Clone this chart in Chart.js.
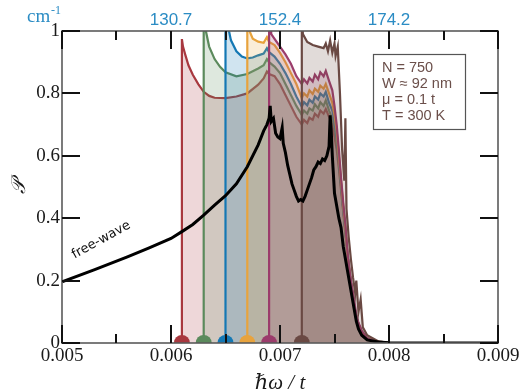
<!DOCTYPE html>
<html>
<head>
<meta charset="utf-8">
<script src="https://cdn.jsdelivr.net/npm/chart.js@4.4.0/dist/chart.umd.min.js"></script>
<style>
  html, body { margin: 0; padding: 0; background: #ffffff; }
</style>
</head>
<body>
<canvas id="plot" width="521" height="390"></canvas>
<script>
// === data ===
const xMajorTicks = [0.005, 0.006, 0.007, 0.008, 0.009];
const xMinorTicks = [0.0055, 0.0065, 0.0075, 0.0085];
const yMajorTicks = [0, 0.2, 0.4, 0.6, 0.8, 1];
const topTickPos = [0.006, 0.007, 0.008];
const topTickLabels = ["130.7", "152.4", "174.2"];
const infoLines = ["N = 750", "W \u2248 92 nm", "\u03bc = 0.1 t", "T = 300 K"];

// shared x grid for the tails of the first five curves
const tailX = [0.00695, 0.007, 0.00705, 0.0071, 0.00715, 0.0072, 0.00722, 0.00725, 0.00727, 0.0073,
  0.00732, 0.00735, 0.00737, 0.0074, 0.00742, 0.00745, 0.00748, 0.0075, 0.00752, 0.00754,
  0.00756, 0.00758, 0.0076, 0.00762, 0.00764, 0.00766, 0.00768, 0.0077, 0.00772, 0.00775,
  0.0078, 0.0079, 0.008, 0.009];

const redHeadX = [0.0061, 0.0061, 0.00611, 0.00613, 0.00616, 0.0062, 0.00625, 0.0063, 0.00635, 0.0064,
  0.0065, 0.0066, 0.0067, 0.0068, 0.00685, 0.00688, 0.0069];
const redHeadY = [0, 0.974, 0.95, 0.925, 0.89, 0.86, 0.83, 0.805, 0.792, 0.786,
  0.785, 0.79, 0.80, 0.828, 0.848, 0.87, 0.862];
const redTailY = [0.855, 0.83, 0.795, 0.76, 0.725, 0.70, 0.715, 0.705, 0.722, 0.715,
  0.735, 0.725, 0.745, 0.735, 0.75, 0.725, 0.70, 0.66, 0.62, 0.56,
  0.49, 0.42, 0.35, 0.28, 0.22, 0.17, 0.12, 0.085, 0.06, 0.035,
  0.015, 0.004, 0, 0];

const greenHeadX = [0.0063, 0.0063, 0.00632, 0.00635, 0.0064, 0.00645, 0.0065, 0.0066, 0.0067, 0.0068,
  0.00685, 0.00688, 0.0069];
const greenHeadY = [0, 1.08, 1.0, 0.95, 0.91, 0.885, 0.868, 0.855, 0.862, 0.88,
  0.89, 0.91, 0.9];
const greenTailY = [0.886, 0.865, 0.83, 0.795, 0.76, 0.731, 0.745, 0.735, 0.752, 0.745,
  0.765, 0.752, 0.772, 0.76, 0.778, 0.745, 0.72, 0.69, 0.64, 0.58,
  0.50, 0.43, 0.36, 0.28, 0.22, 0.17, 0.12, 0.085, 0.06, 0.035,
  0.015, 0.004, 0, 0];

const blueHeadX = [0.0065, 0.0065, 0.00652, 0.00655, 0.0066, 0.00665, 0.0067, 0.00675, 0.0068, 0.00685,
  0.00688, 0.0069];
const blueHeadY = [0, 1.1, 1.02, 0.97, 0.935, 0.918, 0.912, 0.915, 0.922, 0.928,
  0.945, 0.932];
const blueTailY = [0.918, 0.895, 0.865, 0.83, 0.79, 0.757, 0.772, 0.762, 0.78, 0.77,
  0.79, 0.78, 0.80, 0.79, 0.805, 0.77, 0.745, 0.71, 0.66, 0.59,
  0.51, 0.43, 0.36, 0.28, 0.22, 0.17, 0.12, 0.085, 0.06, 0.035,
  0.015, 0.004, 0, 0];

const orangeHeadX = [0.0067, 0.0067, 0.00672, 0.00675, 0.0068, 0.00685, 0.00688, 0.0069];
const orangeHeadY = [0, 1.12, 1.0, 0.975, 0.966, 0.962, 0.98, 0.965];
const orangeTailY = [0.955, 0.93, 0.9, 0.865, 0.83, 0.785, 0.80, 0.79, 0.81, 0.798,
  0.815, 0.805, 0.825, 0.815, 0.83, 0.80, 0.77, 0.73, 0.68, 0.60,
  0.52, 0.44, 0.37, 0.28, 0.22, 0.17, 0.12, 0.085, 0.06, 0.035,
  0.015, 0.004, 0, 0];

const magentaHeadX = [0.0069, 0.0069, 0.00692];
const magentaHeadY = [0, 1.1, 0.99];
const magentaTailY = [0.975, 0.95, 0.925, 0.895, 0.855, 0.83, 0.845, 0.832, 0.85, 0.838,
  0.86, 0.845, 0.868, 0.855, 0.872, 0.84, 0.81, 0.76, 0.70, 0.62,
  0.53, 0.45, 0.38, 0.29, 0.23, 0.18, 0.14, 0.09, 0.065, 0.04,
  0.015, 0.004, 0, 0];

const brownX = [0.0072, 0.0072, 0.00721, 0.00725, 0.0073, 0.00735, 0.0074, 0.00742, 0.00744, 0.00746,
  0.00748, 0.0075, 0.00751, 0.00753, 0.00755, 0.00757, 0.00759, 0.0076, 0.00761, 0.00763,
  0.00765, 0.00767, 0.00769, 0.0077, 0.00772, 0.00774, 0.00776, 0.0078, 0.0079, 0.008, 0.009];
const brownY = [0, 1.05, 0.99, 0.965, 0.955, 0.95, 0.945, 0.96, 0.935, 0.97,
  0.93, 0.96, 0.92, 0.95, 0.80, 0.62, 0.52, 0.72, 0.43, 0.34,
  0.27, 0.21, 0.16, 0.2, 0.1, 0.14, 0.05, 0.025, 0.006, 0, 0];

// free-wave curve
const freeX = [0.005, 0.0053, 0.0056, 0.0058, 0.006, 0.0061, 0.0062, 0.0063, 0.0064, 0.0065,
  0.0066, 0.0067, 0.0068, 0.00685, 0.00688, 0.0069, 0.00691, 0.00692, 0.00694, 0.00696,
  0.00698, 0.007, 0.00702, 0.00703, 0.00705, 0.00707, 0.00709, 0.00711, 0.00713, 0.00715,
  0.00717, 0.00719, 0.00721, 0.00723, 0.00725, 0.00727, 0.00729, 0.00731, 0.00733, 0.00735,
  0.00737, 0.00739, 0.00741, 0.00743, 0.00745, 0.00746, 0.00747, 0.00748, 0.0075, 0.00752,
  0.00754, 0.00756, 0.00758, 0.0076, 0.00762, 0.00764, 0.00766, 0.00768, 0.0077, 0.00772,
  0.00775, 0.0078, 0.0079, 0.008, 0.009];
const freeY = [0.196, 0.235, 0.276, 0.305, 0.335, 0.357, 0.38, 0.41, 0.442, 0.472,
  0.51, 0.565, 0.635, 0.68, 0.70, 0.72, 0.76, 0.71, 0.72, 0.672,
  0.66, 0.655, 0.69, 0.64, 0.61, 0.57, 0.54, 0.51, 0.49, 0.47,
  0.455, 0.46, 0.455, 0.47, 0.49, 0.51, 0.53, 0.555, 0.565, 0.58,
  0.575, 0.59, 0.585, 0.60, 0.63, 0.73, 0.68, 0.60, 0.48, 0.44,
  0.40, 0.37, 0.31, 0.27, 0.23, 0.19, 0.15, 0.11, 0.07, 0.045,
  0.025, 0.01, 0.003, 0.001, 0];

const pts = (xs, ys) => xs.map((x, i) => ({ x, y: ys[i] }));

// === colours ===
const colRed = "#a8383f";
const colGreen = "#5b8a5c";
const colBlue = "#1478b4";
const colOrange = "#e8a33d";
const colMagenta = "#9b3c6b";
const colBrown = "#6a4943";

function fade(hex, a) {
  const n = parseInt(hex.slice(1), 16);
  return `rgba(${(n >> 16) & 255}, ${(n >> 8) & 255}, ${n & 255}, ${a})`;
}

// one shaded curve, with the onset marker on its first point
function bandSet(data, color) {
  return {
    data,
    borderColor: color,
    backgroundColor: fade(color, 0.2),
    borderWidth: 2.2,
    fill: "origin",
    tension: 0,
    clip: 0,
    pointRadius: (c) => (c.dataIndex === 0 ? 8 : 0),
    pointBackgroundColor: color,
    pointBorderWidth: 0,
  };
}

// === frame, inward ticks and text annotations ===
const decorPlugin = {
  id: "decor",
  afterDraw(chart) {
    const { ctx, chartArea: a, scales } = chart;
    const xs = scales.x, ys = scales.y;
    ctx.save();

    // frame
    ctx.strokeStyle = "#5a5a5a";
    ctx.lineWidth = 1.6;
    ctx.strokeRect(a.left, a.top, a.right - a.left, a.bottom - a.top);

    // inward ticks, drawn as thin filled bars
    ctx.fillStyle = "#111111";
    xMajorTicks.forEach((v) => {
      const px = Math.round(xs.getPixelForValue(v));
      ctx.fillRect(px - 1, a.bottom - 18, 2, 18);
      ctx.fillRect(px - 1, a.top, 2, 18);
    });
    xMinorTicks.forEach((v) => {
      const px = Math.round(xs.getPixelForValue(v));
      ctx.fillRect(px - 1, a.bottom - 9, 2, 9);
      ctx.fillRect(px - 1, a.top, 2, 9);
    });
    yMajorTicks.forEach((v) => {
      const py = Math.round(ys.getPixelForValue(v));
      ctx.fillRect(a.left, py - 1, 18, 2);
      ctx.fillRect(a.right - 18, py - 1, 18, 2);
    });

    // cm^-1 unit of the top axis
    ctx.fillStyle = "#2b8cc4";
    ctx.textBaseline = "alphabetic";
    ctx.textAlign = "left";
    ctx.font = "19px 'Liberation Serif'";
    ctx.fillText("cm", 27, 22);
    ctx.font = "12px 'Liberation Serif'";
    ctx.fillText("-1", 51, 14);

    // free-wave label
    ctx.save();
    ctx.translate(xs.getPixelForValue(0.00536), ys.getPixelForValue(0.33));
    ctx.rotate(-29 * Math.PI / 180);
    ctx.fillStyle = "#111";
    ctx.font = "13px 'DejaVu Sans'";
    ctx.textAlign = "center";
    ctx.textBaseline = "middle";
    ctx.fillText("free-wave", 0, 0);
    ctx.restore();

    // parameter box
    const bx = a.right - 125, by = a.top + 23, bw = 92, bh = 75;
    ctx.fillStyle = "#ffffff";
    ctx.fillRect(bx, by, bw, bh);
    ctx.strokeStyle = "#555";
    ctx.lineWidth = 1.2;
    ctx.strokeRect(bx + 0.5, by + 0.5, bw, bh);
    ctx.fillStyle = "#6b4f4a";
    ctx.font = "14.5px 'Liberation Sans'";
    ctx.textAlign = "left";
    ctx.textBaseline = "middle";
    infoLines.forEach((s, i) => ctx.fillText(s, bx + 9, by + 14 + i * 16));

    ctx.restore();
  },
};

const serif = "'Liberation Serif', 'DejaVu Serif', serif";
const noEdgePad = (s) => { s.paddingLeft = 0; s.paddingRight = 0; };

new Chart(document.getElementById("plot"), {
  type: "line",
  data: {
    datasets: [
      { data: pts(freeX, freeY), borderColor: "#000", borderWidth: 3, fill: false, pointRadius: 0, clip: 0 },
      bandSet(pts(brownX, brownY), colBrown),
      bandSet(pts(magentaHeadX.concat(tailX), magentaHeadY.concat(magentaTailY)), colMagenta),
      bandSet(pts(orangeHeadX.concat(tailX), orangeHeadY.concat(orangeTailY)), colOrange),
      bandSet(pts(blueHeadX.concat(tailX), blueHeadY.concat(blueTailY)), colBlue),
      bandSet(pts(greenHeadX.concat(tailX), greenHeadY.concat(greenTailY)), colGreen),
      bandSet(pts(redHeadX.concat(tailX), redHeadY.concat(redTailY)), colRed),
    ],
  },
  options: {
    responsive: false,
    animation: false,
    layout: { padding: { left: 0, right: 23, top: 0, bottom: 0 } },
    plugins: { legend: { display: false }, tooltip: { enabled: false } },
    scales: {
      x: {
        type: "linear",
        min: 0.005,
        max: 0.009,
        grid: { display: false, drawTicks: false },
        border: { display: false },
        ticks: {
          stepSize: 0.001,
          color: "#1a1a1a",
          font: { family: serif, size: 19 },
          padding: 2,
          maxRotation: 0,
          callback: (v) => v.toFixed(3),
        },
        title: {
          display: true,
          text: "\u210F\u03C9 / t",
          color: "#1a1a1a",
          font: { family: serif, size: 21, style: "italic" },
          padding: { top: 0, bottom: -6 },
        },
        afterFit: (s) => { s.height = 47; noEdgePad(s); },
      },
      x2: {
        type: "linear",
        position: "top",
        min: 0.005,
        max: 0.009,
        grid: { display: false, drawTicks: false },
        border: { display: false },
        afterBuildTicks: (s) => { s.ticks = topTickPos.map((v) => ({ value: v })); },
        ticks: {
          color: "#2b8cc4",
          font: { family: "'Liberation Sans', sans-serif", size: 17 },
          padding: 0,
          maxRotation: 0,
          callback: (v, i) => topTickLabels[i],
        },
        afterFit: (s) => { s.height = 31; noEdgePad(s); },
      },
      y: {
        min: 0,
        max: 1,
        grid: { display: false, drawTicks: false },
        border: { display: false },
        ticks: {
          stepSize: 0.2,
          color: "#1a1a1a",
          font: { family: serif, size: 19 },
          padding: 2,
          callback: (v) => (v === 0 ? "0" : v === 1 ? "1" : v.toFixed(1)),
        },
        title: {
          display: true,
          text: "\uD835\uDCAB",
          color: "#1a1a1a",
          font: { family: serif, size: 20, style: "italic" },
          padding: { top: 8, bottom: 0 },
        },
        afterFit: (s) => { s.width = 62; },
      },
    },
  },
  plugins: [decorPlugin],
});
</script>
</body>
</html>
